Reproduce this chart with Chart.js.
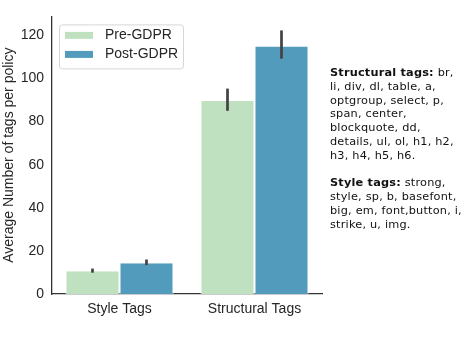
<!DOCTYPE html>
<html>
<head>
<meta charset="utf-8">
<script src="https://cdn.jsdelivr.net/npm/chart.js@4"></script>
<style>
  html, body { margin: 0; padding: 0; background: #fff; }
  #wrap { position: relative; width: 473px; height: 339px; }
  #note {
    position: absolute; left: 330px; top: 66px; width: 143px;
    font-family: "DejaVu Sans", sans-serif; font-size: 11.3px; letter-spacing: 0.2px;
    line-height: 13.8px; color: #111; white-space: nowrap;
  }
  #note p { margin: 0 0 13.8px 0; }
</style>
</head>
<body>
<div id="wrap">
  <canvas id="chart" width="473" height="339"></canvas>
  <div id="note">
    <p><b>Structural tags:</b> br,<br>li, div, dl, table, a,<br>optgroup, select, p,<br>span, center,<br>blockquote, dd,<br>details, ul, ol, h1, h2,<br>h3, h4, h5, h6.</p>
    <p><b>Style tags:</b> strong,<br>style, sp, b, basefont,<br>big, em, font,button, i,<br>strike, u, img.</p>
  </div>
</div>
<script>
// data
const categories = ['Style Tags', 'Structural Tags'];
const seriesNames = ['Pre-GDPR', 'Post-GDPR'];
const preValues = [10.6, 89.5];
const postValues = [14.3, 114.8];
const preErrLow = [9.9, 85.0];
const preErrHigh = [11.8, 95.3];
const postErrLow = [13.4, 109.2];
const postErrHigh = [16.0, 122.3];
const yTicks = [0, 20, 40, 60, 80, 100, 120];

const preColor = '#c0e1c0';
const postColor = '#539bbd';
const textColor = '#262626';
const tickFont = { family: '"Liberation Sans", Arial, sans-serif', size: 14 };

// error bars drawn from the dataset's scales
const errorBars = {
    id: 'errorBars',
    afterDatasetsDraw(chart) {
        const ctx = chart.ctx;
        const y = chart.scales.y;
        ctx.save();
        ctx.strokeStyle = '#424242';
        ctx.lineWidth = 2.7;
        chart.data.datasets.forEach((ds, i) => {
            const meta = chart.getDatasetMeta(i);
            meta.data.forEach((bar, j) => {
                ctx.beginPath();
                ctx.moveTo(bar.x, y.getPixelForValue(ds.errLow[j]));
                ctx.lineTo(bar.x, y.getPixelForValue(ds.errHigh[j]));
                ctx.stroke();
            });
        });
        ctx.restore();
    }
};

// legend box inside the axes, upper left
const innerLegend = {
    id: 'innerLegend',
    afterDraw(chart) {
        const ctx = chart.ctx;
        const area = chart.chartArea;
        const x0 = area.left + 7, y0 = area.top + 8, w = 124, h = 44;
        ctx.save();
        ctx.fillStyle = 'rgba(255,255,255,0.8)';
        ctx.strokeStyle = '#d6d6d6';
        ctx.lineWidth = 1;
        ctx.beginPath();
        ctx.roundRect(x0 + 0.5, y0 + 0.5, w, h, 3);
        ctx.fill();
        ctx.stroke();
        ctx.font = tickFont.size + 'px ' + tickFont.family;
        ctx.textBaseline = 'middle';
        chart.data.datasets.forEach((ds, i) => {
            const cy = y0 + 11 + i * 19;
            ctx.fillStyle = ds.backgroundColor;
            ctx.fillRect(x0 + 6, cy - 3.5, 28, 7);
            ctx.fillStyle = textColor;
            ctx.fillText(ds.label, x0 + 46, cy);
        });
        ctx.restore();
    }
};

new Chart(document.getElementById('chart').getContext('2d'), {
    type: 'bar',
    data: {
        labels: categories,
        datasets: [{
            label: seriesNames[0],
            data: preValues,
            errLow: preErrLow,
            errHigh: preErrHigh,
            backgroundColor: preColor,
            borderColor: '#ffffff',
            borderWidth: { left: 1, right: 1 },
            categoryPercentage: 0.8,
            barPercentage: 1.0
        }, {
            label: seriesNames[1],
            data: postValues,
            errLow: postErrLow,
            errHigh: postErrHigh,
            backgroundColor: postColor,
            borderColor: '#ffffff',
            borderWidth: { left: 1, right: 1 },
            categoryPercentage: 0.8,
            barPercentage: 1.0
        }]
    },
    options: {
        responsive: false,
        animation: false,
        events: [],
        layout: { padding: { left: 0, right: 151, top: 15, bottom: 0 } },
        plugins: {
            legend: { display: false },
            tooltip: { enabled: false }
        },
        scales: {
            x: {
                grid: { display: false, drawTicks: false },
                border: { color: '#333333', width: 1.3 },
                ticks: { color: textColor, font: tickFont, padding: 7 },
                afterFit(scale) { scale.height = 45; }
            },
            y: {
                min: 0,
                max: 128.8,
                grid: { display: false, drawTicks: false },
                border: { color: '#333333', width: 1.3 },
                ticks: { color: textColor, font: tickFont, padding: 8 },
                afterBuildTicks(scale) {
                    scale.ticks = yTicks.map(v => ({ value: v }));
                },
                title: {
                    display: true,
                    text: 'Average Number of tags per policy',
                    color: textColor,
                    font: { family: tickFont.family, size: 14 },
                    padding: { top: 1, bottom: 0 }
                },
                afterFit(scale) { scale.width = 52; }
            }
        }
    },
    plugins: [errorBars, innerLegend]
});
</script>
</body>
</html>
